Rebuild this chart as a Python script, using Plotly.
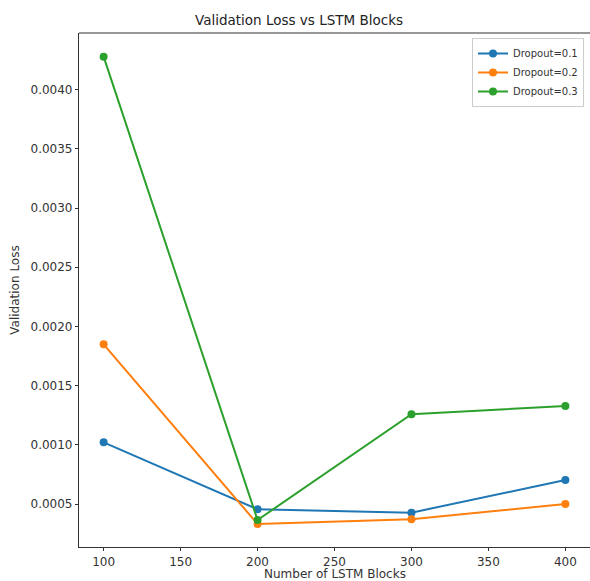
import plotly.graph_objects as go

# LSTM block counts on the x axis
blocks = [100, 200, 300, 400]

# Validation loss per dropout setting
loss_d01 = [0.001021, 0.000455, 0.000427, 0.000703]
loss_d02 = [0.001849, 0.000331, 0.000371, 0.000500]
loss_d03 = [0.004278, 0.000365, 0.001258, 0.001328]

series_names = ["Dropout=0.1", "Dropout=0.2", "Dropout=0.3"]
series_colors = ["#1f77b4", "#ff7f0e", "#2ca02c"]

x_ticks = [100, 150, 200, 250, 300, 350, 400]
y_ticks = [0.0005, 0.0010, 0.0015, 0.0020, 0.0025, 0.0030, 0.0035, 0.0040]

W, H = 590, 581
ML, MR, MT, MB = 79, 0, 33, 34

fig = go.Figure()
for name, vals, col in zip(series_names, [loss_d01, loss_d02, loss_d03], series_colors):
    fig.add_trace(go.Scatter(
        x=blocks, y=vals, name=name, mode="lines+markers",
        line=dict(color=col, width=2),
        marker=dict(color=col, size=8),
        cliponaxis=False,
    ))

font_family = "DejaVu Sans, sans-serif"
axis_common = dict(
    showgrid=False, zeroline=False, automargin=False,
    showline=True, linecolor="#333333", linewidth=1.2,
    ticks="outside", ticklen=3, tickwidth=1, tickcolor="#333333",
    tickfont=dict(family=font_family, size=12, color="#333333"),
)

fig.update_layout(
    width=W, height=H,
    margin=dict(l=ML, r=MR, t=MT, b=MB, pad=0),
    paper_bgcolor="white", plot_bgcolor="white",
    font=dict(family=font_family, color="#333333"),
    title=dict(
        text="Validation Loss vs LSTM Blocks",
        x=299 / W, xref="container", xanchor="center",
        y=1 - 20 / H, yref="container", yanchor="middle",
        font=dict(family=font_family, size=13.5, color="#222222"),
    ),
    xaxis=dict(
        range=[84, 416], tickvals=x_ticks,
        ticktext=[str(v) for v in x_ticks],
        **axis_common,
    ),
    yaxis=dict(
        range=[0.000137, 0.004478], tickvals=y_ticks,
        ticktext=[f"{v:.4f}" for v in y_ticks],
        title=dict(text="Validation Loss", standoff=8,
                   font=dict(family=font_family, size=12, color="#333333")),
        **axis_common,
    ),
    legend=dict(
        x=(472 - ML) / (W - ML - MR), y=(H - MB - 38) / (H - MT - MB),
        xanchor="left", yanchor="top",
        bgcolor="white", bordercolor="#cccccc", borderwidth=1,
        font=dict(family=font_family, size=10, color="#333333"),
        tracegroupgap=0, itemwidth=30,
    ),
)

# x-axis title, sitting just under the tick labels at the bottom edge
fig.add_annotation(
    text="Number of LSTM Blocks", xref="paper", yref="paper",
    x=0.5, y=-(573.5 - (H - MB)) / (H - MT - MB),
    xanchor="center", yanchor="middle", showarrow=False,
    font=dict(family=font_family, size=12, color="#333333"),
)

# Top frame line (the right edge of the frame falls outside the canvas)
fig.add_shape(type="line", xref="paper", yref="paper", x0=0, x1=1, y0=1, y1=1,
              line=dict(color="#333333", width=1.2))

fig.write_html("out.html")
